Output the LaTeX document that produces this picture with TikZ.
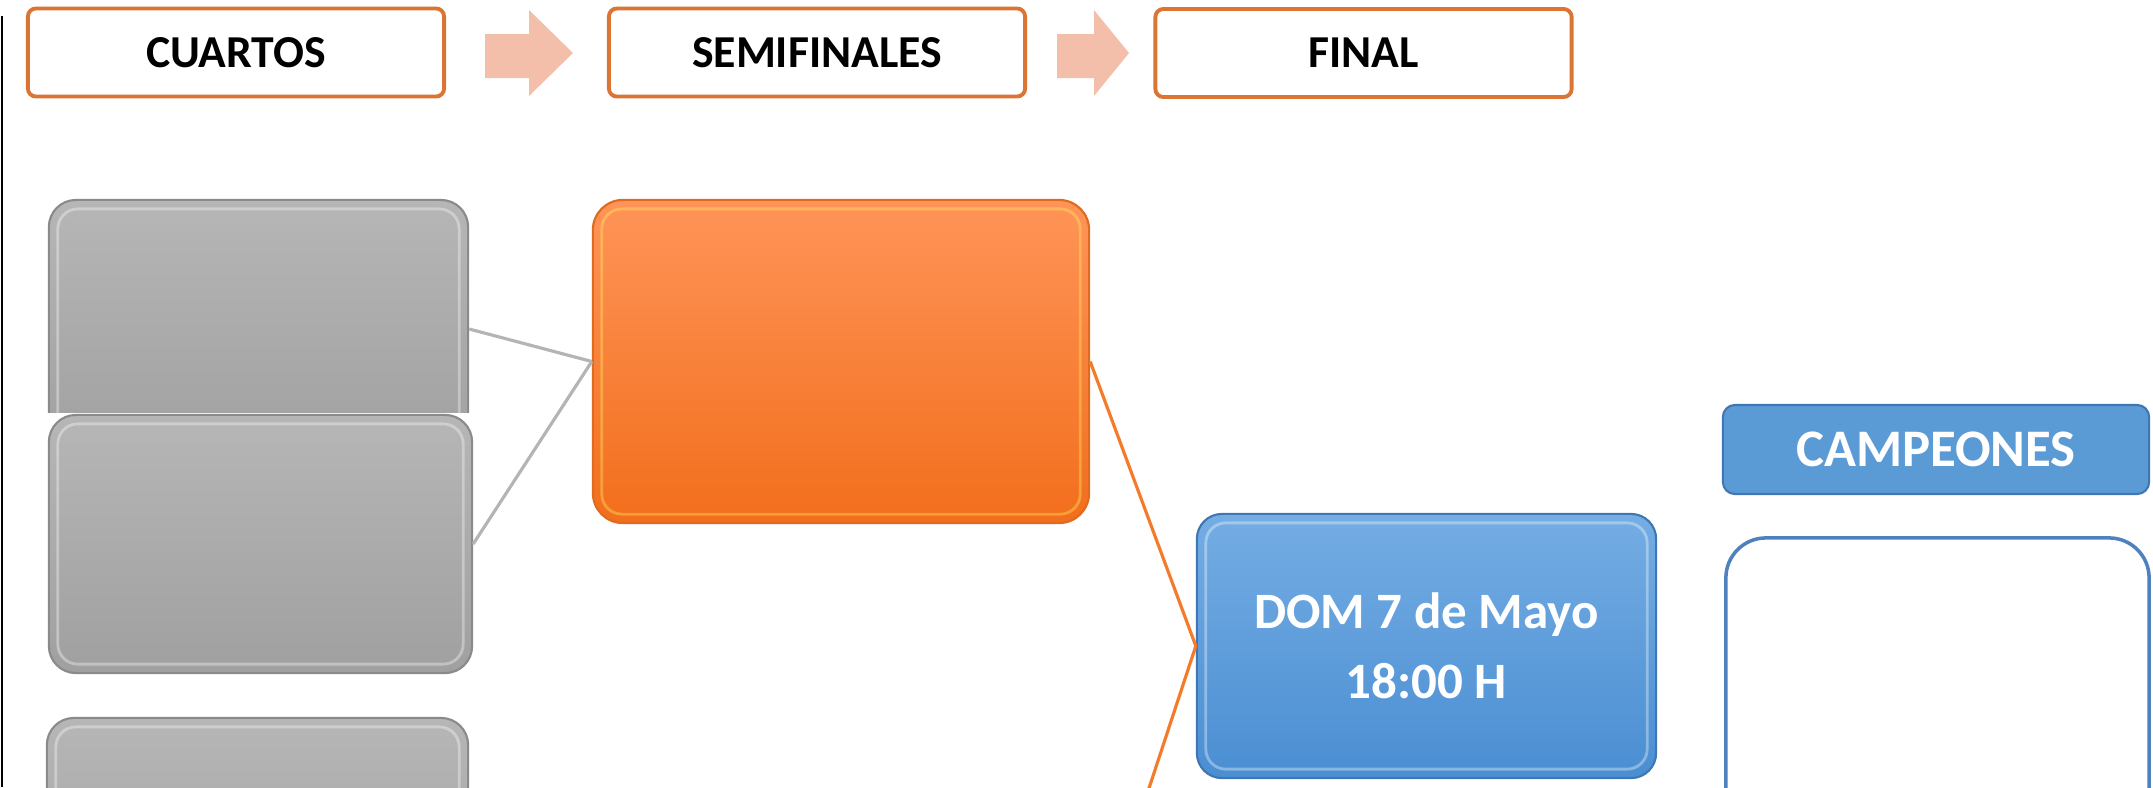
\documentclass[tikz,border=0pt]{standalone}
\usepackage{fontspec}
\setmainfont{Carlito}
\definecolor{hdrline}{HTML}{DC7434}
\definecolor{arrowc}{HTML}{F4BFAA}
\definecolor{graytop}{HTML}{B6B6B6}
\definecolor{graybot}{HTML}{A0A0A0}
\definecolor{grayline}{HTML}{8A8A8A}
\definecolor{orgtop}{HTML}{FF9458}
\definecolor{orgbot}{HTML}{F26E1C}
\definecolor{orgline}{HTML}{E06A1E}
\definecolor{bluetop}{HTML}{75ADE4}
\definecolor{bluebot}{HTML}{4A8ED2}
\definecolor{blueline}{HTML}{3F76B4}
\definecolor{camphd}{HTML}{5B9BD5}
\definecolor{campline}{HTML}{4F81BD}
\definecolor{connorg}{HTML}{F47B2A}
\definecolor{conngray}{HTML}{B4B4B4}

\tikzset{
  header/.style={draw=hdrline,line width=1.1pt,fill=white,rounded corners=0.08cm,
    minimum width=4.16cm,minimum height=0.88cm,font=\bfseries\fontsize{13}{15}\selectfont},
  graybox/.style={draw=grayline,line width=0.6pt,top color=graytop,bottom color=graybot,
    rounded corners=0.27cm,minimum width=4.19cm,minimum height=2.58cm},
  semibox/.style={draw=orgline,line width=0.6pt,top color=orgtop,bottom color=orgbot,
    rounded corners=0.3cm,minimum width=4.96cm,minimum height=3.23cm},
  finalbox/.style={draw=blueline,line width=0.6pt,top color=bluetop,bottom color=bluebot,
    rounded corners=0.25cm,minimum width=4.59cm,minimum height=2.64cm,text=white,align=center,
    font=\bfseries\fontsize{14.5}{20}\selectfont},
  shine/.style={draw=#1,line width=0.8pt,opacity=0.35,rounded corners=0.2cm},
}

\begin{document}
\begin{tikzpicture}[x=0.01cm,y=-0.01cm]
  \useasboundingbox (0,0) rectangle (2153,787);
  \clip (0,0) rectangle (2153,787);
  %\draw[very thin,gray,step=100] (0,0) grid (2153,787);
  \draw[line width=0.6pt] (2,16) -- (2,787);

  % rounds
  \node[header] (cuartos) at (236,52.5) {CUARTOS};
  \node[header] (semis) at (817,52.5) {SEMIFINALES};
  \node[header] (final) at (1363.5,53) {FINAL};
  \fill[arrowc] (485,34) -- (529,34) -- (529,10) -- (573,53) -- (529,96) -- (529,78) -- (485,78) -- cycle;
  \fill[arrowc] (1057,34) -- (1094,34) -- (1094,10) -- (1129,53) -- (1094,96) -- (1094,78) -- (1057,78) -- cycle;

  % cuartos
  \begin{scope}
    \clip (0,150) rectangle (500,412);
    \node[graybox] (q1) at (258.5,329) {};
    \draw[shine=white] ([shift={(10,10)}]q1.north west) rectangle ([shift={(-10,-10)}]q1.south east);
  \end{scope}
  \node[graybox,minimum width=4.23cm] (q2) at (260.5,544) {};
  \draw[shine=white] ([shift={(10,10)}]q2.north west) rectangle ([shift={(-10,-10)}]q2.south east);
  \node[graybox,minimum width=4.21cm] (q3) at (257.5,847) {};
  \draw[shine=white] ([shift={(10,10)}]q3.north west) rectangle ([shift={(-10,-10)}]q3.south east);

  % semifinal
  \node[semibox] (sf) at (841,361.5) {};
  \draw[shine=yellow!60!white] ([shift={(10,10)}]sf.north west) rectangle ([shift={(-10,-10)}]sf.south east);

  % final
  \node[finalbox] (fin) at (1426.5,646) {DOM 7 de Mayo\\18:00 H};
  \draw[shine=white] ([shift={(10,10)}]fin.north west) rectangle ([shift={(-10,-10)}]fin.south east);
  \coordinate (sf2) at (1102,931);

  % campeones
  \node[draw=blueline,line width=0.6pt,fill=camphd,rounded corners=0.12cm,minimum width=4.26cm,
    minimum height=0.89cm,text=white,font=\bfseries\fontsize{15}{18}\selectfont] (camphead) at (1936,449.5) {CAMPEONES};
  \node[draw=campline,line width=1pt,fill=white,rounded corners=0.4cm,minimum width=4.23cm,
    minimum height=3.2cm] (camp) at (1937.5,698) {};

  \draw[conngray,line width=0.9pt] (q1.east) -- (sf.west);
  \draw[conngray,line width=0.9pt] (q2.east) -- (sf.west);
  \draw[connorg,line width=0.9pt] (sf.east) -- (fin.west);
  \draw[connorg,line width=0.9pt] (fin.west) -- (sf2);
\end{tikzpicture}
\end{document}
